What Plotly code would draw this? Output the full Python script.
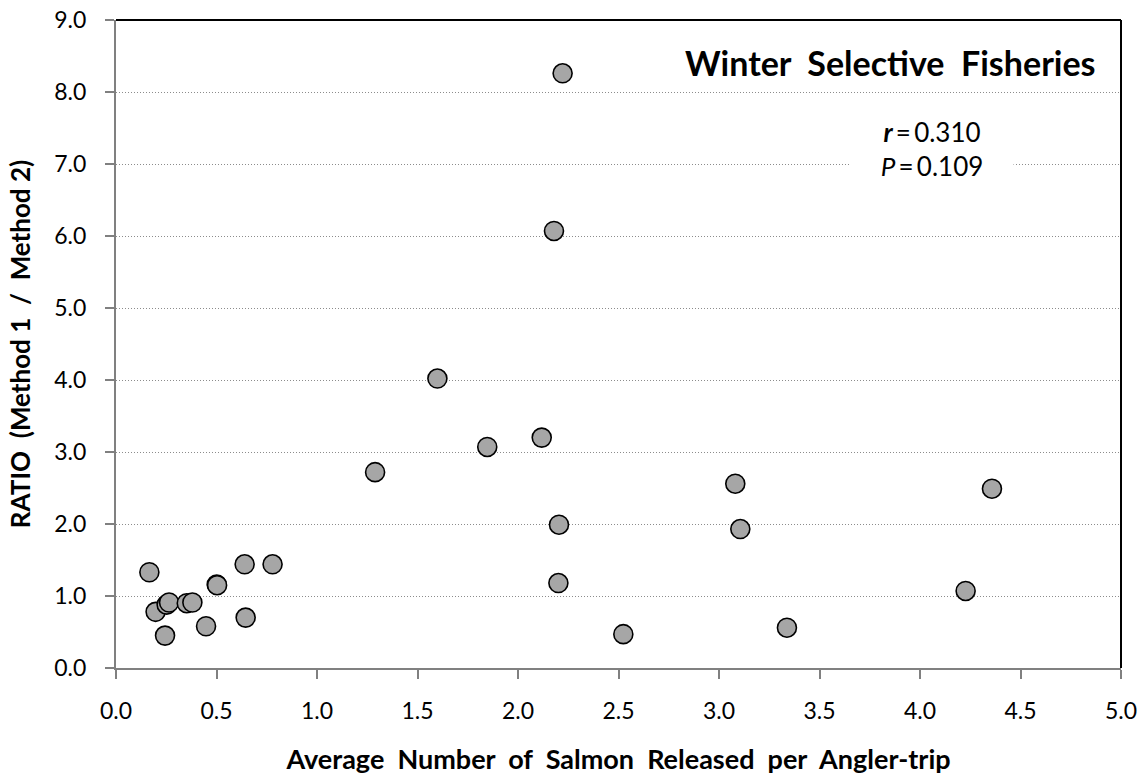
import plotly.graph_objects as go

x_vals = [0.166, 0.197, 0.244, 0.252, 0.264, 0.352, 0.380, 0.448, 0.501, 0.503,
          0.640, 0.645, 0.779, 1.289, 1.599, 1.847, 2.118, 2.179, 2.201, 2.204,
          2.222, 2.524, 3.081, 3.106, 3.338, 4.227, 4.358]
y_vals = [1.33, 0.78, 0.45, 0.88, 0.91, 0.90, 0.91, 0.58, 1.16, 1.15,
          1.44, 0.70, 1.44, 2.72, 4.02, 3.07, 3.20, 6.07, 1.18, 1.99,
          8.26, 0.47, 2.56, 1.93, 0.56, 1.07, 2.49]

x_ticks = [0.0, 0.5, 1.0, 1.5, 2.0, 2.5, 3.0, 3.5, 4.0, 4.5, 5.0]
y_ticks = [0.0, 1.0, 2.0, 3.0, 4.0, 5.0, 6.0, 7.0, 8.0, 9.0]

title_text = "Winter\u00a0 Selective\u00a0 Fisheries"
x_title = "Average\u00a0 Number\u00a0 of\u00a0 Salmon\u00a0 Released\u00a0 per\u00a0 Angler-trip"
y_title = "RATIO\u00a0 (Method\u00a01\u00a0 /\u00a0 Method\u00a02)"
stats_text = "<b><i>r</i></b>\u2009=\u20090.310<br><i>P</i>\u2009=\u20090.109"

FONT = "Lato, 'Open Sans', sans-serif"

fig = go.Figure()
fig.add_trace(go.Scatter(
    x=x_vals, y=y_vals, mode="markers",
    marker=dict(size=19, color="#a6a6a6", line=dict(color="black", width=1.6)),
    showlegend=False, cliponaxis=False,
))

fig.update_layout(
    width=1146, height=779,
    margin=dict(l=116, r=25, t=20, b=111, autoexpand=False),
    paper_bgcolor="white", plot_bgcolor="white",
    font=dict(family=FONT, size=23, color="black"),
    xaxis=dict(
        range=[0, 5], tickvals=x_ticks, ticktext=[f"{v:.1f}" for v in x_ticks],
        showgrid=False, zeroline=False, automargin=False,
        showline=True, linecolor="#808080", linewidth=2,
        ticks="outside", ticklen=9, tickwidth=2, tickcolor="#808080",
        ticklabelstandoff=12,
        tickfont=dict(size=23, family=FONT),
        title=dict(text=x_title, font=dict(size=27, family=FONT, weight="bold"), standoff=28),
    ),
    yaxis=dict(
        range=[0, 9], tickvals=y_ticks, ticktext=[f"{v:.1f}" for v in y_ticks],
        showgrid=True, gridcolor="#8c8c8c", gridwidth=1, griddash="1px,2px",
        zeroline=False, automargin=False,
        showline=True, linecolor="#808080", linewidth=2,
        ticks="outside", ticklen=9, tickwidth=2, tickcolor="#808080",
        ticklabelstandoff=14,
        tickfont=dict(size=23, family=FONT),
        title=dict(text=y_title, font=dict(size=26, family=FONT, weight="bold"), standoff=16),
    ),
    shapes=[
        dict(type="line", xref="x domain", yref="y domain", x0=0, x1=1, y0=1, y1=1,
             line=dict(color="black", width=2), layer="above"),
        dict(type="line", xref="x domain", yref="y domain", x0=1, x1=1, y0=0, y1=1,
             line=dict(color="black", width=2), layer="above"),
    ],
    annotations=[
        dict(text="<b>" + title_text + "</b>", xref="x domain", yref="y domain",
             x=0.977, y=0.935, xanchor="right", yanchor="middle", showarrow=False,
             font=dict(size=34, family=FONT)),
        dict(text=stats_text, xref="x domain", yref="y domain",
             x=0.812, y=0.801, xanchor="center", yanchor="middle", showarrow=False,
             align="center", bgcolor="white", width=156, borderpad=3,
             font=dict(size=26, family=FONT)),
    ],
)

fig.write_html("out.html")
